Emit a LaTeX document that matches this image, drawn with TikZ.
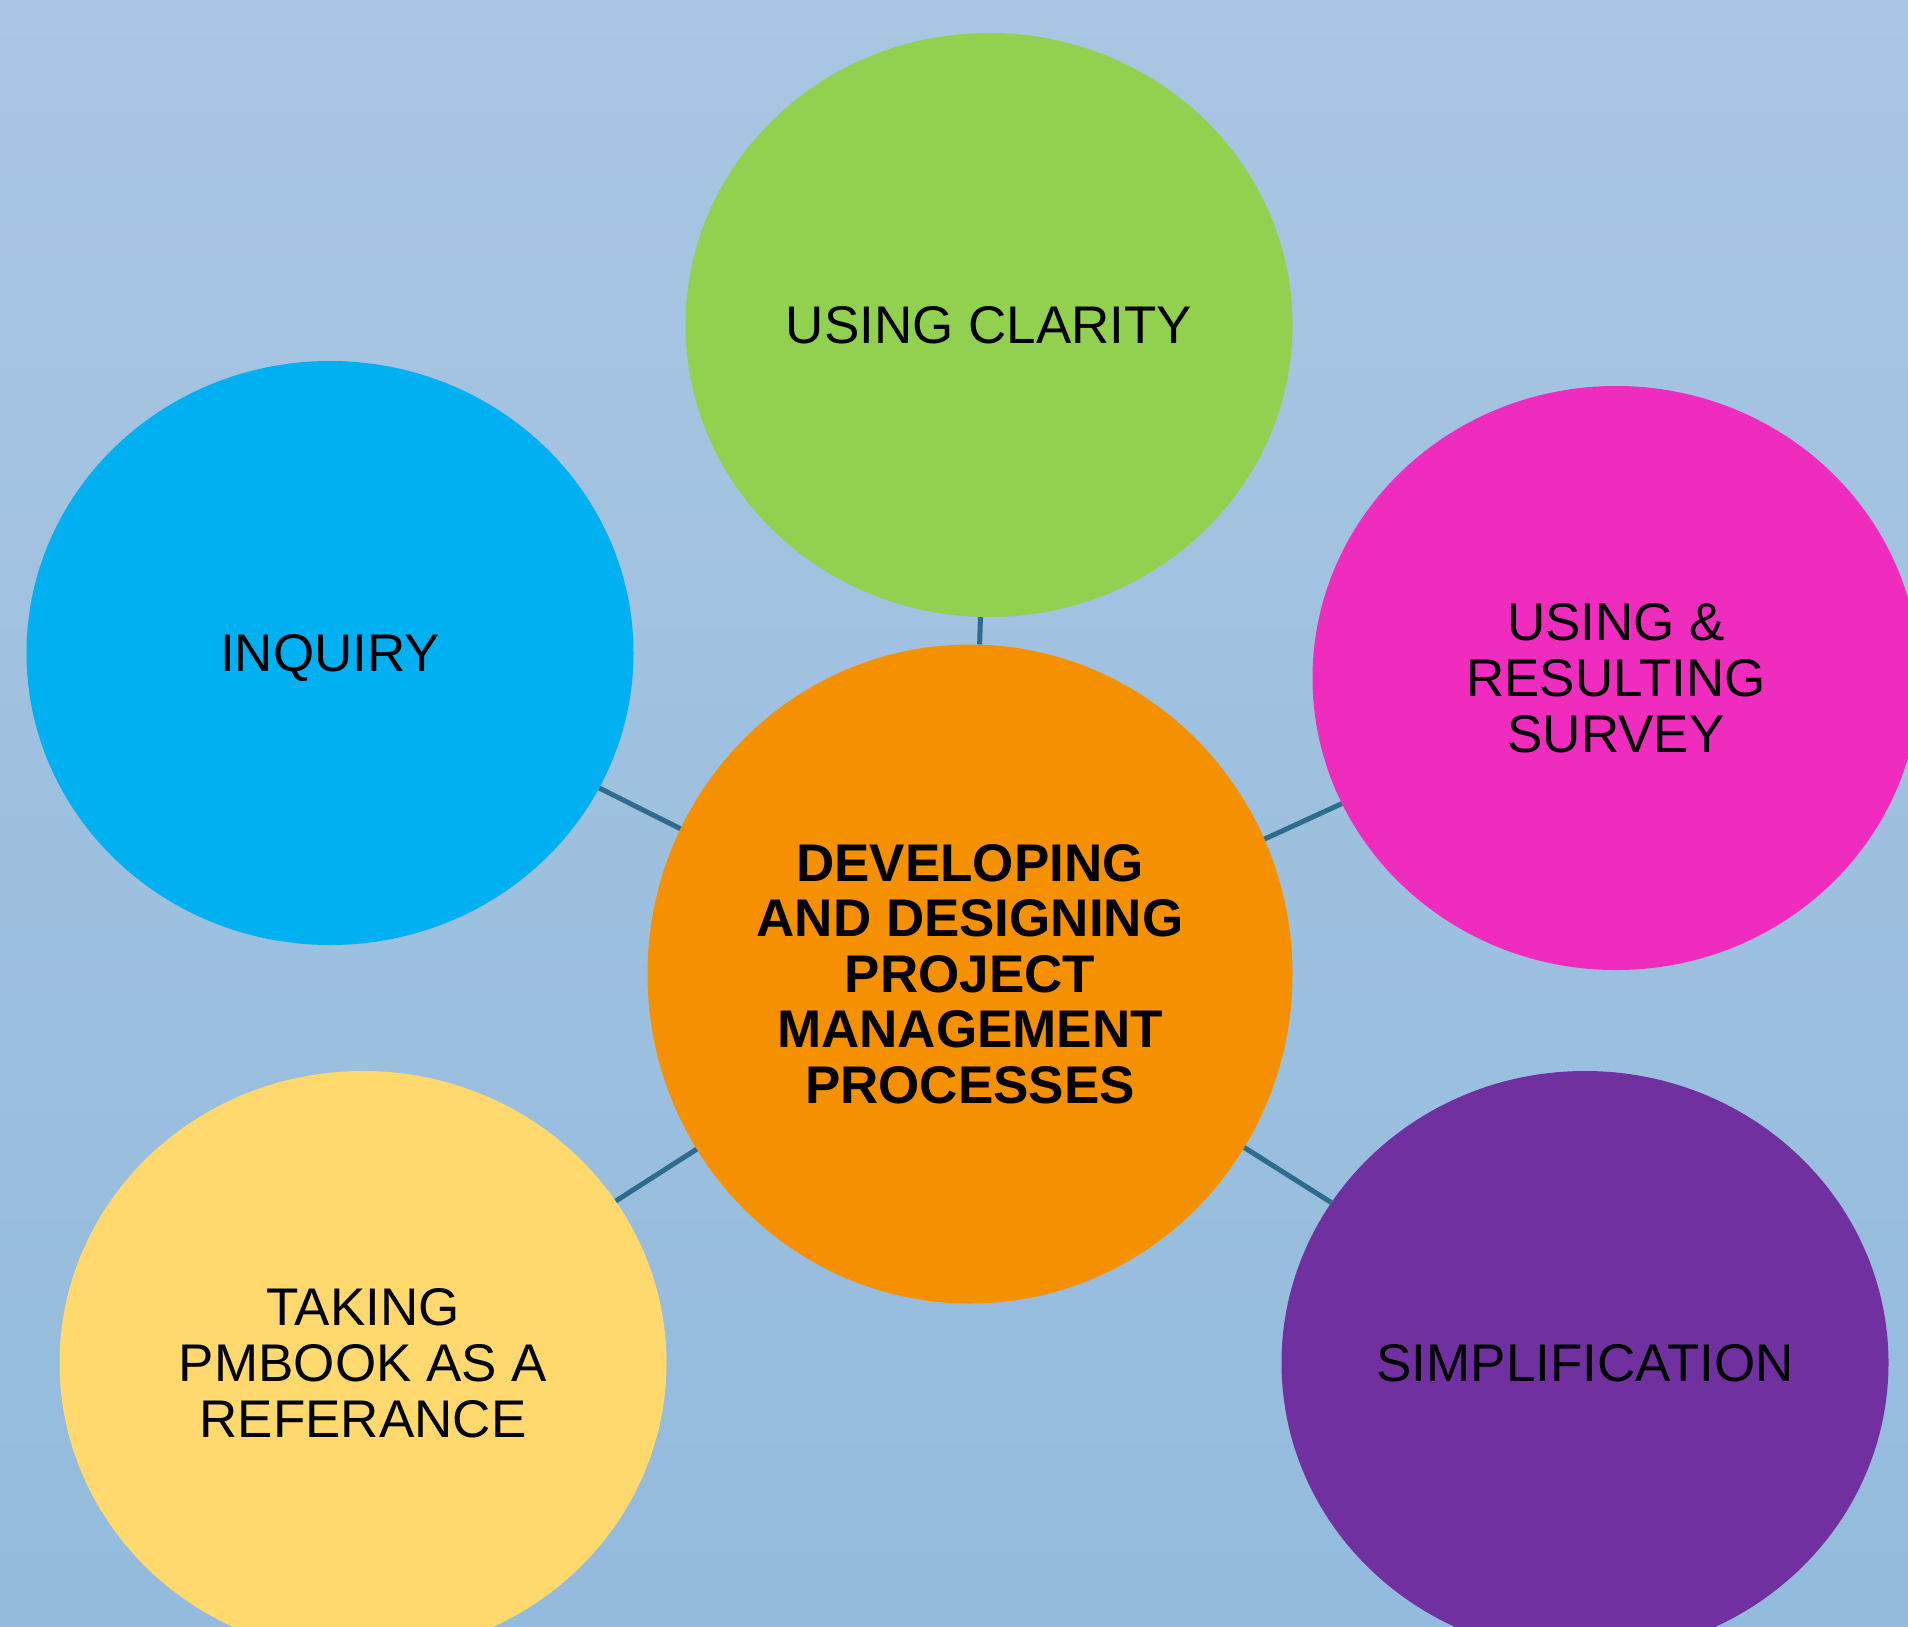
\documentclass[tikz,border=0pt]{standalone}
\usepackage{fontspec}
\setmainfont{Liberation Sans}
\usetikzlibrary{shapes.geometric}
\definecolor{bgtop}{HTML}{A9C6E2}
\definecolor{bgbot}{HTML}{93BBDD}
\definecolor{corec}{HTML}{F59100}
\definecolor{greenc}{HTML}{92D050}
\definecolor{bluec}{HTML}{00B0F0}
\definecolor{pinkc}{HTML}{F02CBF}
\definecolor{yellowc}{HTML}{FFD96D}
\definecolor{purplec}{HTML}{7030A0}
\definecolor{linkc}{HTML}{2E6C8E}
\begin{document}
\begin{tikzpicture}[x=1pt,y=-1pt,
  bubble/.style={ellipse, inner sep=0pt, minimum width=607pt, minimum height=584pt,
    align=center, text=black, font=\fontsize{53}{56}\selectfont},
  corebubble/.style={bubble, minimum width=645pt, minimum height=659pt,
    font=\fontsize{53}{55.5}\selectfont\bfseries},
  link/.style={draw=linkc, line width=5pt}]
\useasboundingbox (0,0) rectangle (1908,1627);
\clip (0,0) rectangle (1908,1627);
\shade[top color=bgtop, bottom color=bgbot] (0,0) rectangle (1908,1627);
\node[corebubble, fill=corec] (core) at (970,974) {DEVELOPING\\AND DESIGNING\\PROJECT\\MANAGEMENT\\PROCESSES};
\node[bubble, fill=greenc] (clarity) at (989,325) {USING CLARITY};
\node[bubble, fill=bluec, text depth=0pt] (inquiry) at (330,653) {INQUIRY};
\node[bubble, fill=pinkc] (survey) at (1616,678) {USING \&\\RESULTING\\SURVEY};
\node[bubble, fill=yellowc] (pmbook) at (363,1363) {TAKING\\PMBOOK AS A\\REFERANCE};
\node[bubble, fill=purplec] (simpl) at (1585,1363) {SIMPLIFICATION};
\draw[link] (core) -- (clarity);
\draw[link] (core) -- (inquiry);
\draw[link] (core) -- (survey);
\draw[link] (core) -- (pmbook);
\draw[link] (core) -- (simpl);
\end{tikzpicture}
\end{document}
